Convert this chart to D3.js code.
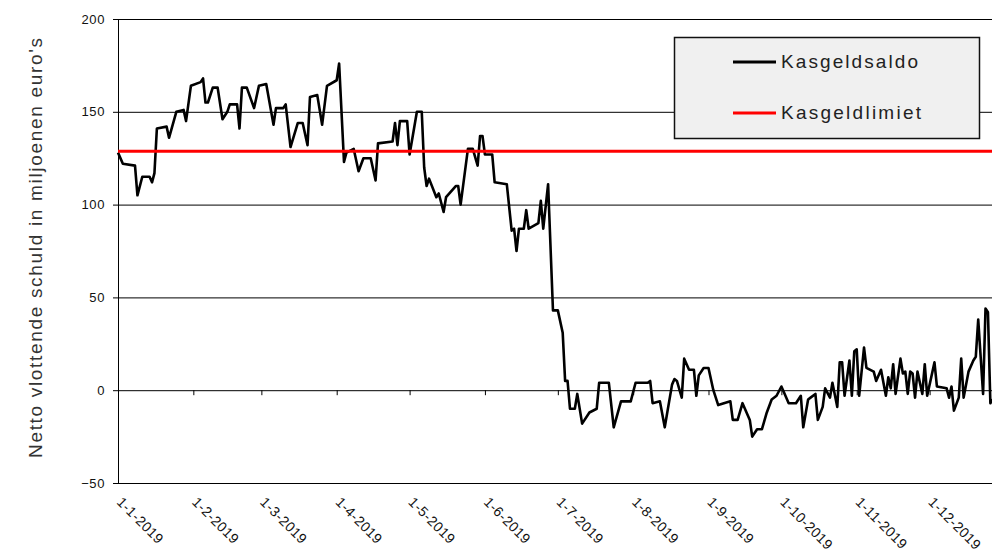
<!DOCTYPE html>
<meta charset="utf-8">
<style>
    body { margin: 0; background: #fff; }
    text { font-family: "Liberation Sans", Arial, sans-serif; }
    .grid line { stroke: #000; stroke-width: 1px; }
    .grid path { display: none; }
    .yAxis path, .yAxis line, .xAxis path, .xAxis line { stroke: #000; stroke-width: 1px; }
    .lineChart { fill: none; stroke-linejoin: round; }
</style>

<svg width="992" height="553"></svg>
<script src="https://d3js.org/d3.v7.min.js"></script>
<script>

    var series = ["Kasgeldsaldo", "Kasgeldlimiet"];

    var datums = [
        "2019-01-01", "2019-01-03", "2019-01-08", "2019-01-09", "2019-01-11", "2019-01-14", "2019-01-15", "2019-01-16",
        "2019-01-17", "2019-01-21", "2019-01-22", "2019-01-25", "2019-01-28", "2019-01-29", "2019-01-31",
        "2019-02-04", "2019-02-05", "2019-02-06", "2019-02-07", "2019-02-09", "2019-02-11", "2019-02-13", "2019-02-15",
        "2019-02-16", "2019-02-19", "2019-02-20", "2019-02-21", "2019-02-23", "2019-02-26", "2019-02-28",
        "2019-03-03", "2019-03-06", "2019-03-07", "2019-03-10", "2019-03-11", "2019-03-13", "2019-03-16", "2019-03-18",
        "2019-03-20", "2019-03-21", "2019-03-24", "2019-03-26", "2019-03-28",
        "2019-04-01", "2019-04-02", "2019-04-04", "2019-04-05", "2019-04-08", "2019-04-10", "2019-04-12", "2019-04-15",
        "2019-04-17", "2019-04-18", "2019-04-24", "2019-04-25", "2019-04-26", "2019-04-27", "2019-04-30",
        "2019-05-01", "2019-05-04", "2019-05-06", "2019-05-07", "2019-05-08", "2019-05-09", "2019-05-12", "2019-05-13",
        "2019-05-15", "2019-05-16", "2019-05-20", "2019-05-21", "2019-05-22", "2019-05-25", "2019-05-27", "2019-05-29",
        "2019-05-30", "2019-05-31",
        "2019-06-01", "2019-06-04", "2019-06-05", "2019-06-10", "2019-06-12", "2019-06-13", "2019-06-14", "2019-06-15",
        "2019-06-17", "2019-06-18", "2019-06-19", "2019-06-23", "2019-06-24", "2019-06-25", "2019-06-27", "2019-06-29",
        "2019-07-01", "2019-07-03", "2019-07-04", "2019-07-05", "2019-07-06", "2019-07-08", "2019-07-09", "2019-07-11",
        "2019-07-14", "2019-07-17", "2019-07-18", "2019-07-22", "2019-07-24", "2019-07-27", "2019-07-31",
        "2019-08-02", "2019-08-07", "2019-08-08", "2019-08-09", "2019-08-12", "2019-08-14", "2019-08-17", "2019-08-18",
        "2019-08-19", "2019-08-21", "2019-08-22", "2019-08-24", "2019-08-26", "2019-08-27", "2019-08-28", "2019-08-30",
        "2019-09-01", "2019-09-03", "2019-09-05", "2019-09-10", "2019-09-11", "2019-09-13", "2019-09-15", "2019-09-18",
        "2019-09-19", "2019-09-21", "2019-09-23", "2019-09-25", "2019-09-27", "2019-09-29",
        "2019-10-01", "2019-10-02", "2019-10-04", "2019-10-07", "2019-10-09", "2019-10-10", "2019-10-12", "2019-10-13",
        "2019-10-15", "2019-10-16", "2019-10-18", "2019-10-19", "2019-10-21", "2019-10-22", "2019-10-24", "2019-10-25",
        "2019-10-26", "2019-10-27", "2019-10-29", "2019-10-30", "2019-10-31",
        "2019-11-01", "2019-11-02", "2019-11-04", "2019-11-05", "2019-11-08", "2019-11-09", "2019-11-11", "2019-11-13",
        "2019-11-14", "2019-11-15", "2019-11-16", "2019-11-17", "2019-11-19", "2019-11-20", "2019-11-21", "2019-11-22",
        "2019-11-23", "2019-11-24", "2019-11-25", "2019-11-26", "2019-11-28", "2019-11-29", "2019-11-30",
        "2019-12-03", "2019-12-04", "2019-12-08", "2019-12-09", "2019-12-10", "2019-12-11", "2019-12-13", "2019-12-14",
        "2019-12-15", "2019-12-17", "2019-12-19", "2019-12-20", "2019-12-21", "2019-12-23", "2019-12-24", "2019-12-25",
        "2019-12-26", "2019-12-27"];

    var saldo = [
        128, 122, 121, 105, 115, 115, 112, 117,
        141, 142, 136, 150, 151, 145, 164,
        166, 168, 155, 155, 163, 163, 146, 150,
        154, 154, 141, 163, 163, 152, 164,
        165, 143, 152, 152, 154, 131, 144, 144,
        132, 158, 159, 143, 164,
        167, 176, 123, 128, 130, 118, 125, 125,
        113, 133, 134, 144, 132, 145, 145,
        127, 150, 150, 120, 110, 114, 104, 106,
        96, 104, 110, 110, 100, 130, 130, 121,
        137, 137,
        127, 127, 112, 111, 86, 87, 75, 87,
        87, 97, 87, 90, 102, 87, 111, 43,
        43, 31, 5, 5, -10, -10, -2, -18,
        -12, -10, 4, 4, -20, -6, -6,
        4, 4, 5, -7, -6, -20, 3, 6,
        5, -4, 17, 11, 11, -3, 8, 12,
        12, 0, -8, -6, -16, -16, -7, -16,
        -25, -21, -21, -12, -5, -3,
        2, -1, -7, -7, -3, -20, -5, -4,
        -2, -16, -9, 1, -4, 4, -9, 15,
        15, -3, 16, -3, 21,
        22, -3, 23, 12, 10, 5, 11, -3,
        7, 1, 14, -2, 17, 9, 10, -2,
        10, 9, -4, 10, -2, 14, -3,
        15, 2, 1, -4, 2, -11, -4, 17,
        -4, 10, 16, 18, 38, -2, 44, 42,
        -7, -5];

    var limietDatums = ["2019-01-01", "2019-12-31"];
    var limiet = [128.7, 128.7];

    var yTicks = [-50, 0, 50, 100, 150, 200];
    var maandTicks = ["2019-01-01", "2019-02-01", "2019-03-01", "2019-04-01", "2019-05-01", "2019-06-01",
        "2019-07-01", "2019-08-01", "2019-09-01", "2019-10-01", "2019-11-01", "2019-12-01"];

    var parse = d3.timeParse("%Y-%m-%d");
    var fmt = d3.timeFormat("%-d-%-m-%Y");

    var svg = d3.select("svg");
    var W = 992;
    var margin = { left: 118, top: 19, bottom: 483 };

    var xScale = d3.scaleTime()
        .domain([new Date(2019, 0, 1), new Date(2020, 0, 1)])
        .range([margin.left, margin.left + 365 * 2.43]);

    var yScale = d3.scaleLinear()
        .domain([-50, 200])
        .range([margin.bottom, margin.top]);

    // horizontale rasterlijnen
    svg.append("g")
        .attr("class", "grid")
        .attr("transform", "translate(" + margin.left + ",0)")
        .call(d3.axisLeft(yScale)
            .tickValues(yTicks.filter(function (t) { return t !== 0; }))
            .tickSize(-(W - margin.left))
            .tickFormat("")
        );

    // y-as met labels
    var yAxis = svg.append("g")
        .attr("class", "yAxis")
        .attr("transform", "translate(" + margin.left + ",0)")
        .call(d3.axisLeft(yScale)
            .tickValues(yTicks)
            .tickSize(5)
            .tickSizeOuter(0)
            .tickPadding(8)
        );
    yAxis.selectAll("text")
        .attr("font-family", "Liberation Sans, Arial, sans-serif")
        .attr("font-size", "13px")
        .attr("letter-spacing", "0.6px")
        .attr("fill", "#111");

    // x-as op nul
    svg.append("g")
        .attr("class", "xAxis")
        .attr("transform", "translate(0," + yScale(0) + ")")
        .call(d3.axisBottom(xScale)
            .tickValues(maandTicks.map(parse))
            .tickSize(5)
            .tickSizeOuter(0)
            .tickFormat("")
        );

    // maandlabels onderaan, gedraaid
    svg.append("g")
        .selectAll("text")
        .data(maandTicks)
        .enter().append("text")
        .attr("transform", function (d) { return "translate(" + (xScale(parse(d)) - 2) + "," + (margin.bottom + 20) + ") rotate(45)"; })
        .attr("font-size", "14px")
        .attr("letter-spacing", "0.4px")
        .attr("fill", "#111")
        .text(function (d) { return fmt(parse(d)); });

    // as-titel
    svg.append("text")
        .attr("transform", "translate(42,248) rotate(-90)")
        .attr("text-anchor", "middle")
        .attr("font-family", "DejaVu Sans, Verdana, sans-serif")
        .attr("font-size", "19px")
        .attr("fill", "#333")
        .attr("textLength", 420)
        .attr("lengthAdjust", "spacing")
        .text("Netto vlottende schuld in miljoenen euro's");

    var line = d3.line()
        .x(function (d) { return xScale(d.x); })
        .y(function (d) { return yScale(d.y); });

    var saldoData = datums.map(function (d, i) { return { x: parse(d), y: saldo[i] }; });
    var limietData = limietDatums.map(function (d, i) { return { x: parse(d), y: limiet[i] }; });

    svg.append("path")
        .datum(saldoData)
        .attr("class", "lineChart")
        .style("stroke", "#000")
        .style("stroke-width", "2.6px")
        .attr("d", line);

    svg.append("path")
        .datum(limietData)
        .attr("class", "lineChart")
        .style("stroke", "#f00")
        .style("stroke-width", "3px")
        .attr("d", line);

    // legenda
    var colors = ["#000", "#f00"];
    var lg = svg.append("g");
    lg.append("rect")
        .attr("x", 674.5)
        .attr("y", 37.5)
        .attr("width", 305)
        .attr("height", 101)
        .attr("fill", "#f0f0f0")
        .attr("stroke", "#111")
        .attr("stroke-width", 1.5);

    var item = lg.selectAll("g")
        .data(series)
        .enter().append("g")
        .attr("transform", function (d, i) { return "translate(0," + (62 + i * 51) + ")"; });

    item.append("line")
        .attr("x1", 733)
        .attr("x2", 776)
        .attr("stroke", function (d, i) { return colors[i]; })
        .attr("stroke-width", 3);

    item.append("text")
        .attr("x", 781)
        .attr("y", 6)
        .attr("font-family", "DejaVu Sans, Verdana, sans-serif")
        .attr("font-size", "19px")
        .attr("fill", "#222")
        .attr("textLength", function (d, i) { return i === 0 ? 137 : 140; })
        .attr("lengthAdjust", "spacing")
        .text(function (d) { return d; });

</script>
